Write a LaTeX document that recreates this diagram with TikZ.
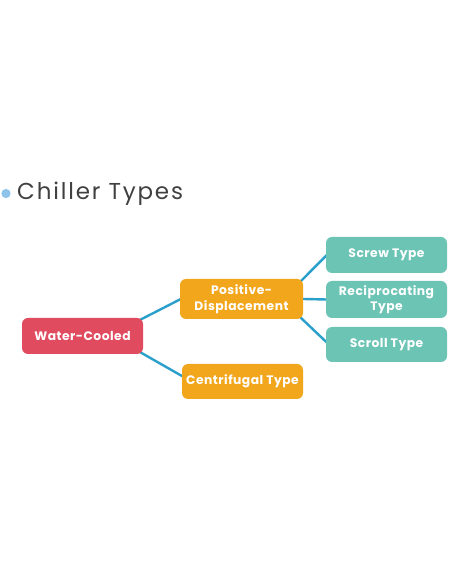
\documentclass[tikz,border=0pt]{standalone}
\usepackage{fontspec}
\setmainfont{Poppins}
\newfontfamily\boxfont[LetterSpace=4]{Poppins}
\newfontfamily\titlefont[LetterSpace=8]{Poppins}
\definecolor{wcred}{HTML}{E04B60}
\definecolor{pdorange}{HTML}{F2A61B}
\definecolor{tealc}{HTML}{6CC4B5}
\definecolor{linkblue}{HTML}{2A9FCB}
\definecolor{titlegray}{HTML}{404040}
\definecolor{bulletblue}{HTML}{8EC4EA}
\pgfdeclarelayer{bg}
\pgfsetlayers{bg,main}
\begin{document}
\begin{tikzpicture}[x=1pt,y=1pt,
  box/.style={rectangle, rounded corners=6pt, draw=none, text=white,
    font=\boxfont\bfseries\fontsize{12.3}{15.5}\selectfont, align=center, inner sep=0pt,
    minimum width=121pt, minimum height=36pt},
  link/.style={draw=linkblue, line width=2.4pt}]
\useasboundingbox (0,0) rectangle (452,584);
\begin{pgfonlayer}{bg}
\fill[white] (0,0) rectangle (452,584);
\end{pgfonlayer}
% title
\fill[bulletblue] (6,390.5) circle (4.6);
\node[anchor=base west, inner sep=0pt, text=titlegray, font=\titlefont\fontsize{23}{27}\selectfont] (title) at (17,384) {Chiller Types};
% nodes
\node[box, fill=wcred] (wc) at (82.5,248) {Water-Cooled};
\node[box, fill=pdorange, minimum width=123pt, minimum height=40pt] (pd) at (241.5,285) {Positive-\\Displacement};
\node[box, fill=pdorange, minimum height=35pt] (ct) at (242.5,202.5) {Centrifugal Type};
\node[box, fill=tealc] (sc) at (386.5,329) {Screw Type};
\node[box, fill=tealc, minimum height=37pt] (rc) at (386.5,284.5) {Reciprocating\\Type};
\node[box, fill=tealc, minimum height=35pt] (sl) at (386.5,239.5) {Scroll Type};
% connectors (behind nodes)
\begin{pgfonlayer}{bg}
\path[link] ([xshift=-3pt,yshift=-2pt]wc.north east) -- ([xshift=1pt]pd.west);
\path[link] ([xshift=-3pt,yshift=2pt]wc.south east) -- ([xshift=1pt,yshift=5pt]ct.west);
\path[link] ([xshift=-3pt,yshift=-3pt]pd.north east) -- ([xshift=1pt]sc.west);
\path[link] (pd.east) -- ([xshift=1pt]rc.west);
\path[link] ([xshift=-3pt,yshift=2pt]pd.south east) -- ([xshift=1pt,yshift=2pt]sl.west);
\end{pgfonlayer}
\end{tikzpicture}
\end{document}
